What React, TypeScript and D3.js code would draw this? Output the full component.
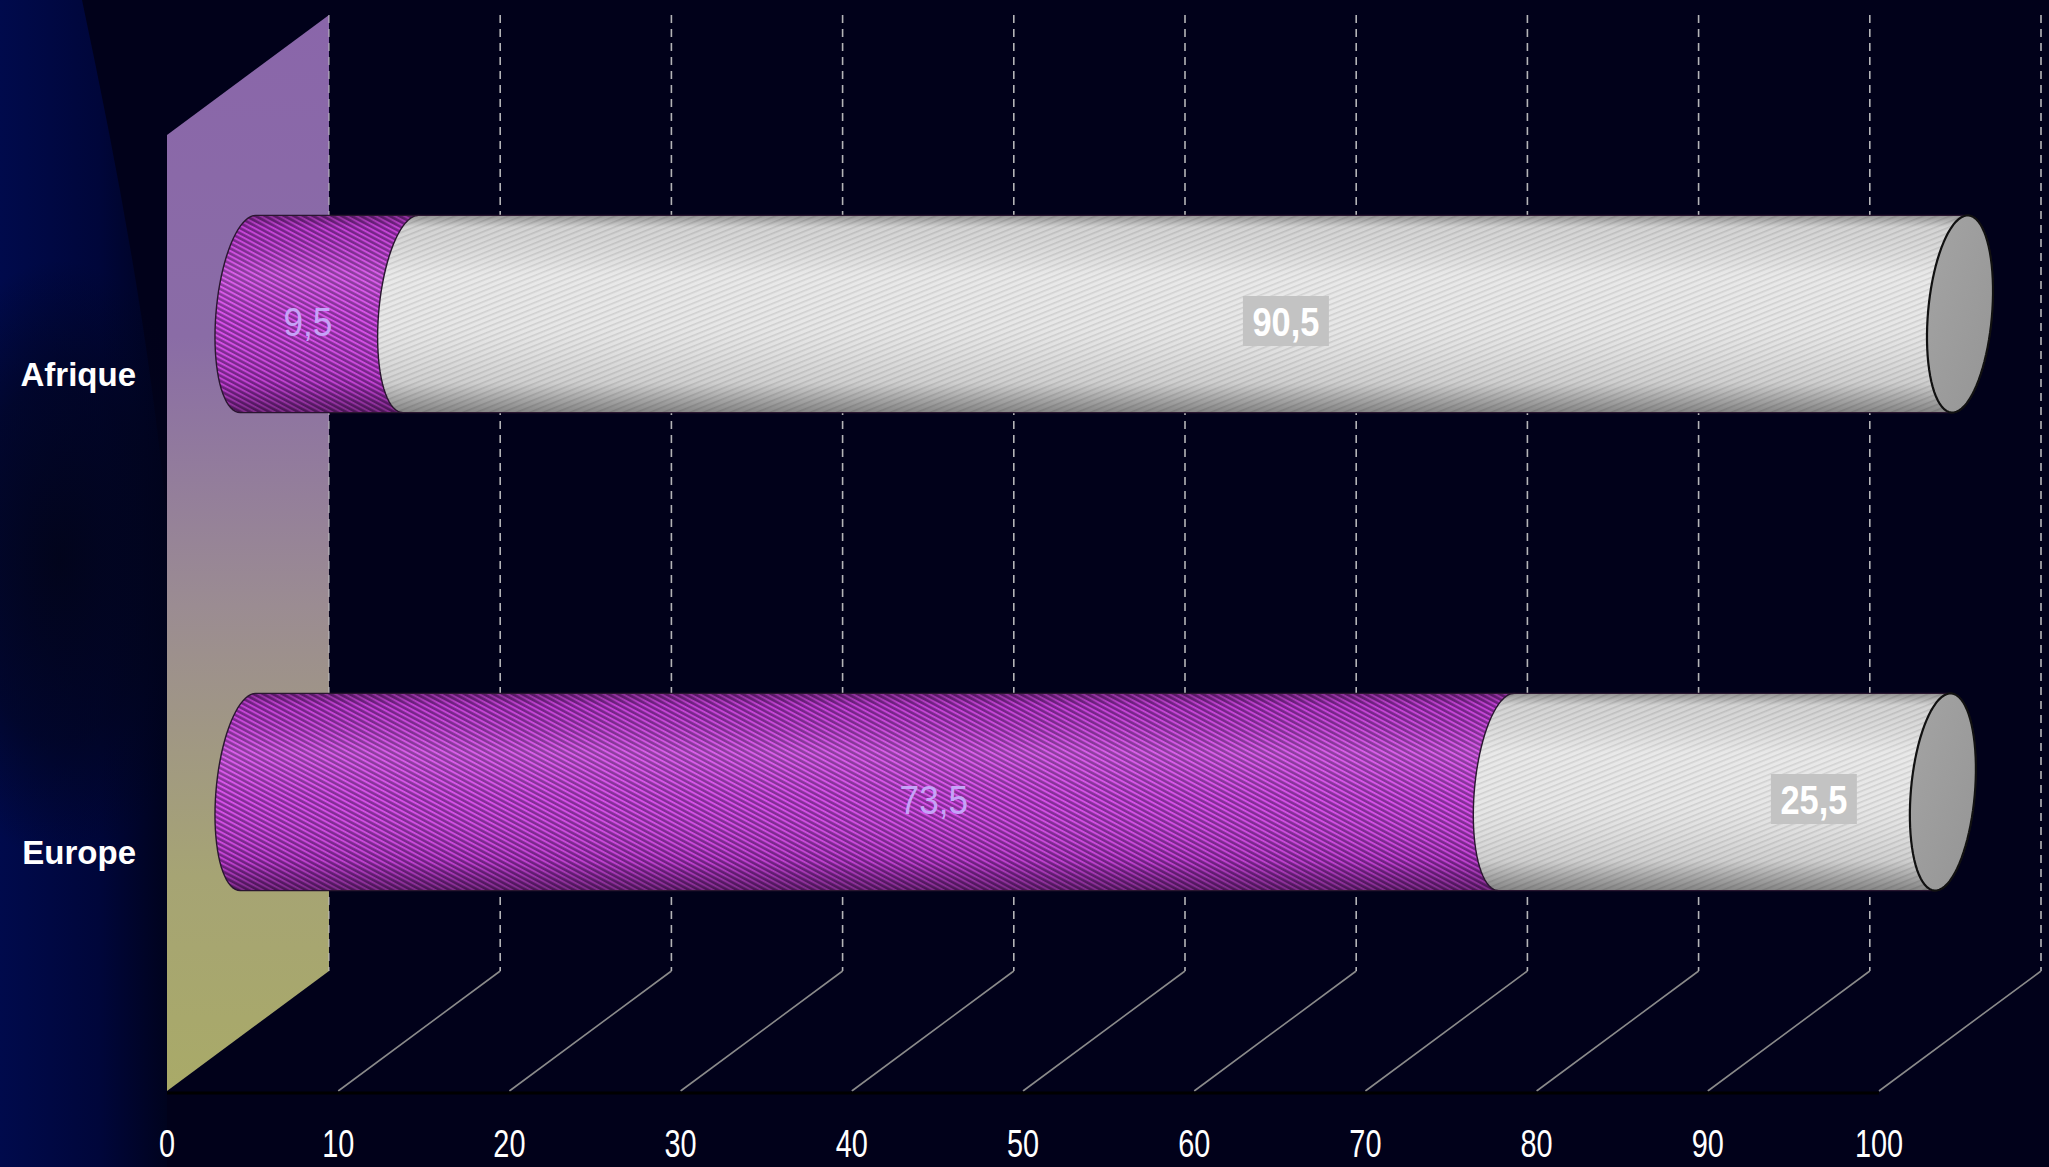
import React from "react";
import * as d3 from "d3";

const W = 2049;
const H = 1167;

// ---- data ----
const categories = ["Afrique", "Europe"];
const seriesA = [9.5, 73.5]; // purple
const seriesB = [90.5, 25.5]; // white
const tickValues = [0, 10, 20, 30, 40, 50, 60, 70, 80, 90, 100];
const tickLabels = ["0", "10", "20", "30", "40", "50", "60", "70", "80", "90", "100"];
const valueLabelsA = ["9,5", "73,5"];
const valueLabelsB = ["90,5", "25,5"];

// ---- geometry ----
const frontLeft = 167;
const frontRight = 1879;
const frontTop = 135;
const frontBottom = 1091;
const depthDX = 162;
const depthDY = -120;

const xF = d3.scaleLinear().domain([0, 100]).range([frontLeft, frontRight]);
const xB = (v: number) => xF(v) + depthDX;
const xM = (v: number) => xF(v) + depthDX / 2;
const yF = d3.scaleBand<string>().domain(categories).range([frontTop, frontBottom]).padding(0);
const labelScale = d3.scaleLinear().domain([0, 100]).range([215, 2171]);

const RX = 32;
const TILT = (5 * Math.PI) / 180;

function ellipsePts(cx: number, cy: number, rx: number, ry: number, t0: number, t1: number, n = 40) {
  const pts: [number, number][] = [];
  for (let i = 0; i <= n; i++) {
    const t = t0 + ((t1 - t0) * i) / n;
    const c = Math.cos(t), s = Math.sin(t);
    pts.push([
      cx + rx * c * Math.cos(TILT) - ry * s * Math.sin(TILT),
      cy + rx * c * Math.sin(TILT) + ry * s * Math.cos(TILT),
    ]);
  }
  return pts;
}

function segmentPath(X0: number, X1: number, cy: number, ry: number) {
  const tTop = Math.atan2(-ry * Math.cos(TILT), -RX * Math.sin(TILT));
  const right = ellipsePts(X1, cy, RX, ry, tTop, tTop + Math.PI);
  const left = ellipsePts(X0, cy, RX, ry, tTop + Math.PI, tTop + 2 * Math.PI);
  const line = d3.line();
  return line([...right, ...left]) + "Z";
}

function capPath(X: number, cy: number, ry: number) {
  return d3.line()(ellipsePts(X, cy, RX, ry, 0, Math.PI * 2, 80)) + "Z";
}

export default function App() {
  const bw = yF.bandwidth();
  const ry = bw * 0.207;
  const font = "'Liberation Sans', Arial, sans-serif";

  const bars = categories.map((cat, i) => {
    const cy = (yF(cat) as number) + bw / 2 + depthDY / 2;
    const segs = [
      { v0: 0, v1: seriesA[i], kind: "A", label: valueLabelsA[i] },
      { v0: seriesA[i], v1: seriesA[i] + seriesB[i], kind: "B", label: valueLabelsB[i] },
    ];
    return { cat, cy, segs, frontCy: (yF(cat) as number) + bw / 2 };
  });

  return (
    <svg
      width={W}
      height={H}
      style={{ position: "absolute", left: 0, top: 0, display: "block" }}
      xmlns="http://www.w3.org/2000/svg"
    >
      <defs>
        <linearGradient id="leftBlue" x1="0" y1="0" x2="1" y2="0">
          <stop offset="0" stopColor="#000a4c" />
          <stop offset="0.6" stopColor="#00063a" />
          <stop offset="1" stopColor="#00031e" />
        </linearGradient>
        <radialGradient id="darkBlob" cx="0.5" cy="0.5" r="0.5">
          <stop offset="0" stopColor="#02041a" stopOpacity="0.95" />
          <stop offset="0.6" stopColor="#02041a" stopOpacity="0.6" />
          <stop offset="1" stopColor="#02041a" stopOpacity="0" />
        </radialGradient>
        <linearGradient id="wallGrad" gradientUnits="userSpaceOnUse" x1="0" y1="13" x2="0" y2="1091">
          <stop offset="0" stopColor="#8a66aa" />
          <stop offset="0.3" stopColor="#8a6ca6" />
          <stop offset="0.55" stopColor="#9b8c92" />
          <stop offset="0.8" stopColor="#a6a474" />
          <stop offset="1" stopColor="#a9aa68" />
        </linearGradient>
        <pattern id="purpleStripes" width="4.5" height="4.5" patternUnits="userSpaceOnUse" patternTransform="rotate(28)">
          <rect width="4.5" height="4.5" fill="#7e2492" />
          <rect width="4.5" height="2" fill="#d448e6" />
        </pattern>
        <pattern id="whiteStripes" width="5" height="5" patternUnits="userSpaceOnUse" patternTransform="rotate(-22)">
          <rect width="5" height="5" fill="#e6e6e6" />
          <rect width="5" height="1.6" fill="#cdcdcd" />
        </pattern>
        <linearGradient id="shade" x1="0" y1="0" x2="0" y2="1">
          <stop offset="0" stopColor="#000" stopOpacity="0.35" />
          <stop offset="0.06" stopColor="#000" stopOpacity="0.08" />
          <stop offset="0.3" stopColor="#fff" stopOpacity="0.12" />
          <stop offset="0.55" stopColor="#fff" stopOpacity="0.04" />
          <stop offset="0.85" stopColor="#000" stopOpacity="0.1" />
          <stop offset="1" stopColor="#000" stopOpacity="0.42" />
        </linearGradient>
        <linearGradient id="capGrad" x1="0" y1="0" x2="1" y2="1">
          <stop offset="0" stopColor="#a4a4a4" />
          <stop offset="1" stopColor="#959595" />
        </linearGradient>
      </defs>

      {/* background */}
      <rect x={0} y={0} width={W} height={H} fill="#01011a" />
      <path d="M0,0 H82 C118,170 150,340 167,520 V1167 H0 Z" fill="url(#leftBlue)" />
      <ellipse cx={60} cy={560} rx={160} ry={300} fill="url(#darkBlob)" />

      {/* side wall */}
      <polygon
        points={`${xF(0)},${frontTop} ${xB(0)},${frontTop + depthDY} ${xB(0)},${frontBottom + depthDY} ${xF(0)},${frontBottom}`}
        fill="url(#wallGrad)"
      />

      {/* back gridlines */}
      {tickValues.map((v) => (
        <line
          key={"g" + v}
          x1={xB(v)}
          x2={xB(v)}
          y1={frontTop + depthDY}
          y2={frontBottom + depthDY}
          stroke="#c8c8c8"
          strokeWidth={1.6}
          strokeDasharray="8 6"
          opacity={v === 0 ? 0.6 : 0.9}
        />
      ))}
      {/* floor lines */}
      {tickValues.filter((v) => v > 0).map((v) => (
        <line
          key={"f" + v}
          x1={xB(v)}
          y1={frontBottom + depthDY}
          x2={xF(v)}
          y2={frontBottom}
          stroke="#8a8a8a"
          strokeWidth={1.6}
        />
      ))}
      <line x1={xF(0)} x2={xF(100)} y1={frontBottom + 2} y2={frontBottom + 2} stroke="#000000" strokeWidth={3} />

      {/* bars */}
      {bars.map((b) => {
        const last = b.segs[b.segs.length - 1];
        return (
          <g key={b.cat}>
            {b.segs.map((s) => {
              const d = segmentPath(xM(s.v0), xM(s.v1), b.cy, ry);
              return (
                <g key={s.kind}>
                  <path d={d} fill={s.kind === "A" ? "url(#purpleStripes)" : "url(#whiteStripes)"} />
                  <path d={d} fill="url(#shade)" stroke="#2a1630" strokeWidth={1.4} />
                </g>
              );
            })}
            <path d={capPath(xM(last.v1), b.cy, ry)} fill="url(#capGrad)" stroke="#111" strokeWidth={2.2} />
          </g>
        );
      })}

      {/* value labels */}
      {bars.map((b) =>
        b.segs.map((s) => {
          const center = (s.v0 + s.v1) / 2;
          if (s.kind === "A") {
            const lx = labelScale(center);
            const ly = b.cy + 8;
            return (
              <g key={b.cat + s.kind} transform={`translate(${lx},${ly}) scale(0.88,1)`}>
                <text x={0} y={14} textAnchor="middle" fontFamily={font} fontSize={40} fill="#c6a2f8">
                  {s.label}
                </text>
              </g>
            );
          }
          const lx = Math.min(labelScale(center), xM(s.v1) - 129);
          const ly = b.cy + 8;
          return (
            <g key={b.cat + s.kind}>
              <rect x={lx - 43} y={ly - 26} width={86} height={50} fill="#c3c3c3" />
              <g transform={`translate(${lx},${ly}) scale(0.86,1)`}>
                <text x={0} y={14} textAnchor="middle" fontFamily={font} fontWeight="bold" fontSize={40} fill="#ffffff">
                  {s.label}
                </text>
              </g>
            </g>
          );
        })
      )}

      {/* category labels */}
      {bars.map((b) => (
        <text
          key={"c" + b.cat}
          x={136}
          y={b.frontCy + 12}
          textAnchor="end"
          fontFamily={font}
          fontWeight="bold"
          fontSize={33}
          fill="#ffffff"
        >
          {b.cat}
        </text>
      ))}

      {/* tick labels */}
      {tickValues.map((v, i) => (
        <g key={"t" + v} transform={`translate(${xF(v)},1157) scale(0.76,1)`}>
          <text x={0} y={0} textAnchor="middle" fontFamily={font} fontSize={38} fill="#ffffff">
            {tickLabels[i]}
          </text>
        </g>
      ))}
    </svg>
  );
}
